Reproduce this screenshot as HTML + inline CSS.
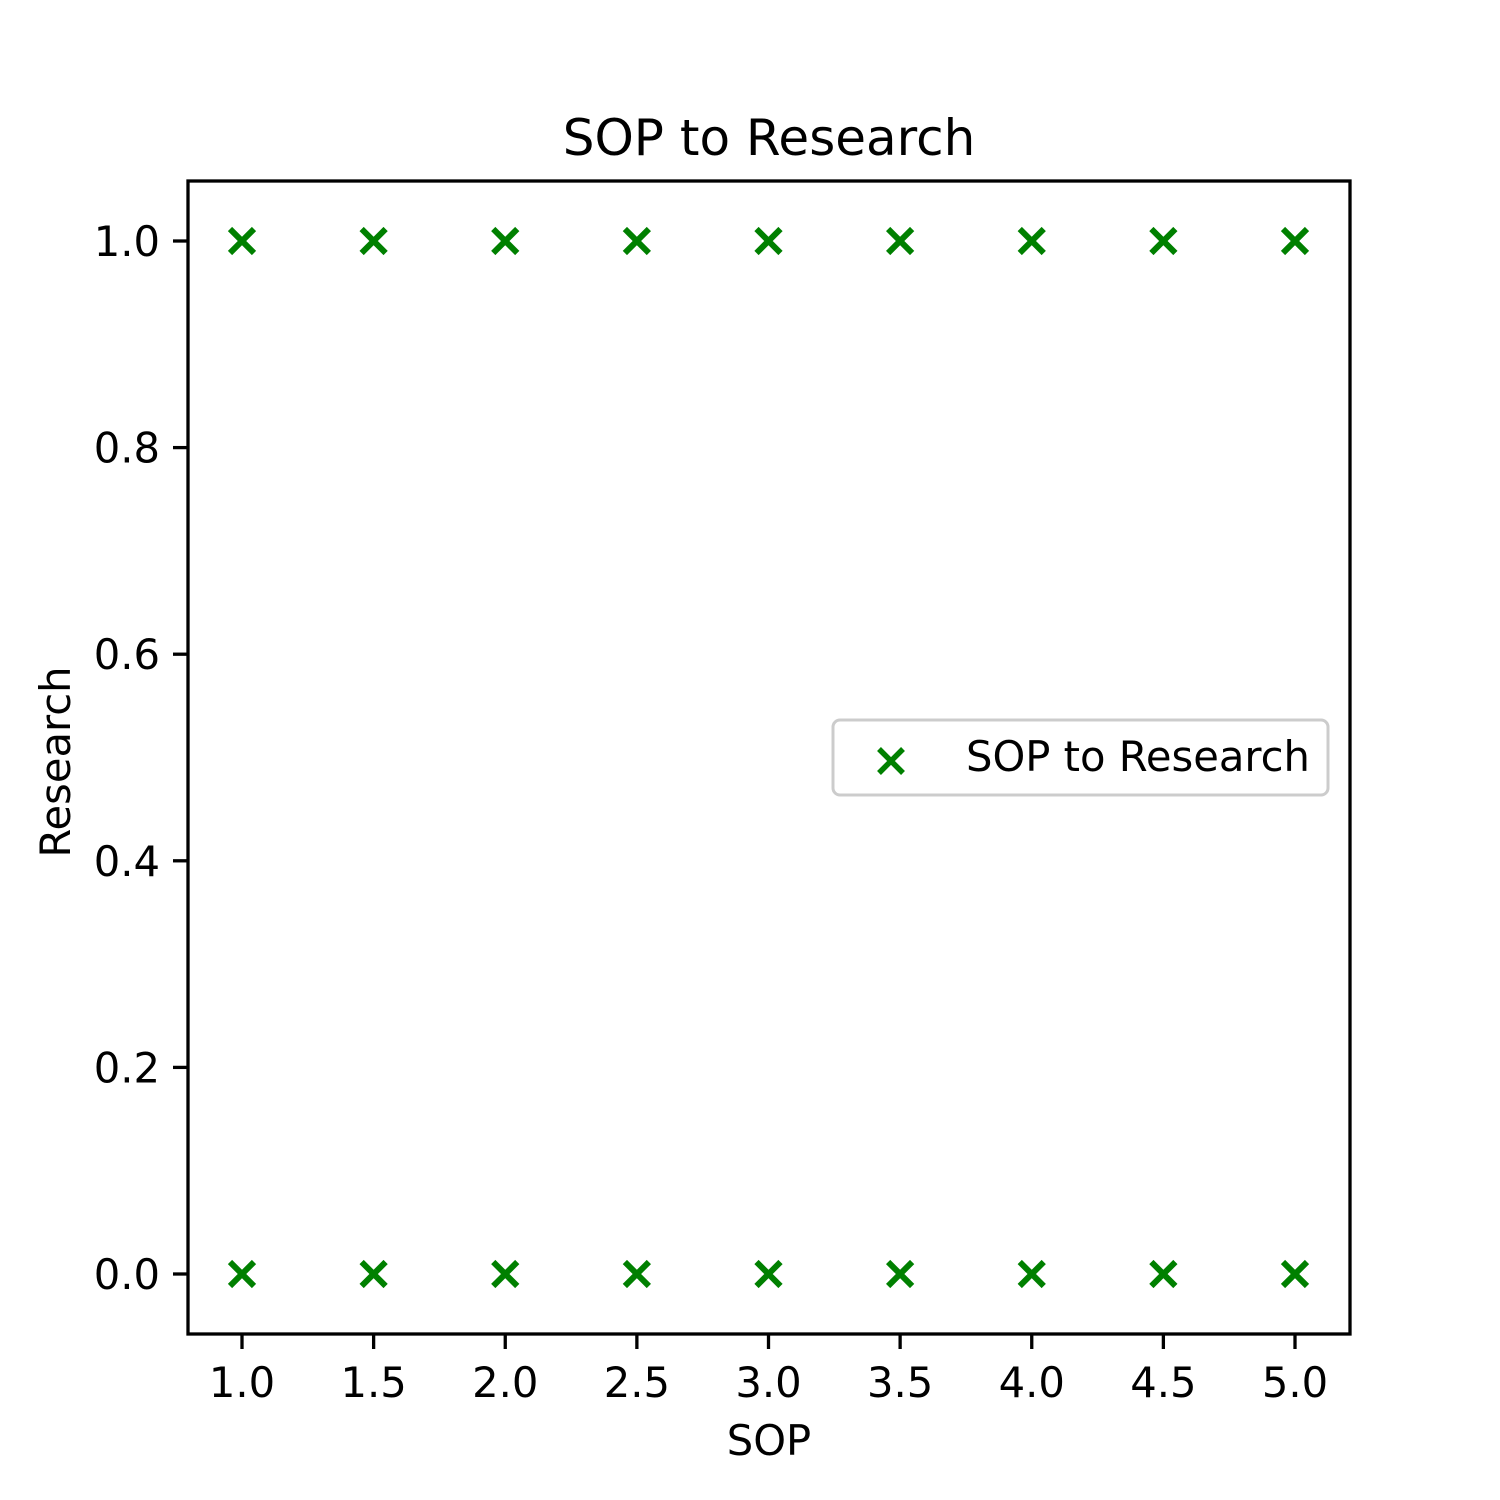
<!DOCTYPE html>
<html><head><meta charset="utf-8"><style>
html,body{margin:0;padding:0;background:#fff;}
svg{display:block;font-family:"DejaVu Sans","Liberation Sans",sans-serif;}
</style></head><body>
<svg id="chart" width="1500" height="1500" viewBox="0 0 1500 1500">
<rect width="1500" height="1500" fill="#fff"/>
<text x="769" y="155" font-size="50" text-anchor="middle">SOP to Research</text>
<g id="marks"></g>
<g id="axes"></g>
<rect x="188" y="181" width="1162" height="1153" fill="none" stroke="#000" stroke-width="3.3"/>
<text x="769" y="1455" font-size="41.7" text-anchor="middle">SOP</text>
<text transform="translate(70,762) rotate(-90)" font-size="41.7" text-anchor="middle">Research</text>
<g>
<rect x="833" y="720" width="495" height="75" rx="7" fill="#fff" stroke="#ccc" stroke-width="3"/>
<path d="M879,749 L903,773 M903,749 L879,773" stroke="#008000" stroke-width="5.5"/>
<text x="966" y="771" font-size="41.7">SOP to Research</text>
</g>
</svg>
<script>
const xValues = [1.0,1.5,2.0,2.5,3.0,3.5,4.0,4.5,5.0,1.0,1.5,2.0,2.5,3.0,3.5,4.0,4.5,5.0];
const yValues = [1,1,1,1,1,1,1,1,1,0,0,0,0,0,0,0,0,0];
const xTicks = [1.0,1.5,2.0,2.5,3.0,3.5,4.0,4.5,5.0];
const yTicks = [0.0,0.2,0.4,0.6,0.8,1.0];
const NS='http://www.w3.org/2000/svg';
function xs(v){return 242+(v-1)*263.25;}
function ys(v){return 1274-v*1033;}
const marks=document.getElementById('marks'), axes=document.getElementById('axes');
function mk(tag,attrs,parent){const e=document.createElementNS(NS,tag);for(const k in attrs)e.setAttribute(k,attrs[k]);parent.appendChild(e);return e;}
xValues.forEach((x,i)=>{
  const cx=xs(x), cy=ys(yValues[i]), r=12;
  const p=mk('path',{d:`M${cx-r},${cy-r} L${cx+r},${cy+r} M${cx+r},${cy-r} L${cx-r},${cy+r}`,stroke:'#008000','stroke-width':6},marks);
  
  
});
xTicks.forEach(t=>{
  const l=mk('line',{x1:xs(t),x2:xs(t),y1:1334,y2:1349,stroke:'#000','stroke-width':3.3},axes);
  
  
  const tx=mk('text',{x:xs(t),y:1397,'font-size':41.7,'text-anchor':'middle'},axes);
  tx.textContent=t.toFixed(1);
  
  
});
yTicks.forEach(t=>{
  const l=mk('line',{x1:173,x2:188,y1:ys(t),y2:ys(t),stroke:'#000','stroke-width':3.3},axes);
  
  
  const tx=mk('text',{x:160,y:ys(t)+15,'font-size':41.7,'text-anchor':'end'},axes);
  tx.textContent=t.toFixed(1);
  
  
});
</script>
</body></html>
